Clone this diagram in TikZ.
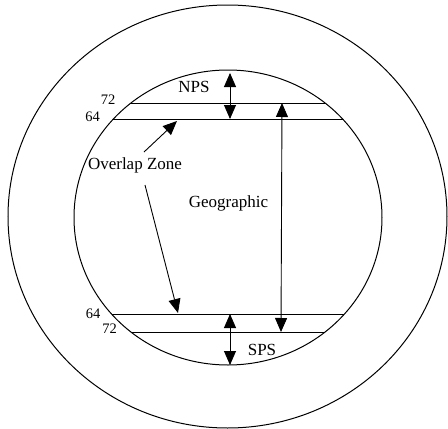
\documentclass[tikz,border=0pt]{standalone}
\usepackage{fontspec}
\setmainfont{Liberation Serif}
\usetikzlibrary{arrows.meta}

\begin{document}
\begin{tikzpicture}[
  x=1pt, y=-1pt,
  ring/.style={draw=black, line width=1pt},
  latline/.style={draw=black, line width=0.9pt},
  zonelbl/.style={anchor=base, inner sep=0pt, font=\fontsize{17}{20}\selectfont},
  latlbl/.style={anchor=base, inner sep=0pt, font=\fontsize{14.5}{17}\selectfont},
  dimarrow/.style={{Triangle[length=14pt,width=12pt]}-{Triangle[length=14pt,width=12pt]}, line width=0.9pt},
  zonearrow/.style={-{Triangle[length=14pt,width=12pt]}, line width=0.9pt}
]
\useasboundingbox (0,0) rectangle (448,429);
% globe and inner circle
\draw[ring] (227.5,216.5) ellipse [x radius=219.5pt, y radius=211.5pt];
\draw[ring] (228,217.5) ellipse [x radius=154pt, y radius=147.5pt];
% latitude lines 72 / 64, cut at the inner circle
\begin{scope}
  \clip (228,217.5) ellipse [x radius=154pt, y radius=147.5pt];
  \foreach \lat in {103,119,314,332}
    \draw[latline] (60,\lat) -- (400,\lat);
\end{scope}
% labels
\node[zonelbl] (nps) at (194,92) {NPS};
\node[zonelbl] (sps) at (262,355) {SPS};
\node[zonelbl] (geo) at (228.5,207) {Geographic};
\node[zonelbl] (overlap) at (135,169) {Overlap Zone};
\node[latlbl] (n72) at (108,104) {72};
\node[latlbl] (n64) at (92.5,121.5) {64};
\node[latlbl] (s64) at (93,318) {64};
\node[latlbl] (s72) at (109.5,333) {72};
% arrow ends
\coordinate (npsA) at (230,73);
\coordinate (npsB) at (230,119);
\coordinate (geoA) at (282,103);
\coordinate (geoB) at (281,332);
\coordinate (spsA) at (230,314);
\coordinate (spsB) at (230,365);
\coordinate (ovA1) at (144,152);
\coordinate (ovB1) at (177,121);
\coordinate (ovA2) at (145,185);
\coordinate (ovB2) at (178,313);
\draw[dimarrow] (npsA) -- (npsB);
\draw[dimarrow] (geoA) -- (geoB);
\draw[dimarrow] (spsA) -- (spsB);
\draw[zonearrow] (ovA1) -- (ovB1);
\draw[zonearrow] (ovA2) -- (ovB2);
\end{tikzpicture}
\end{document}
